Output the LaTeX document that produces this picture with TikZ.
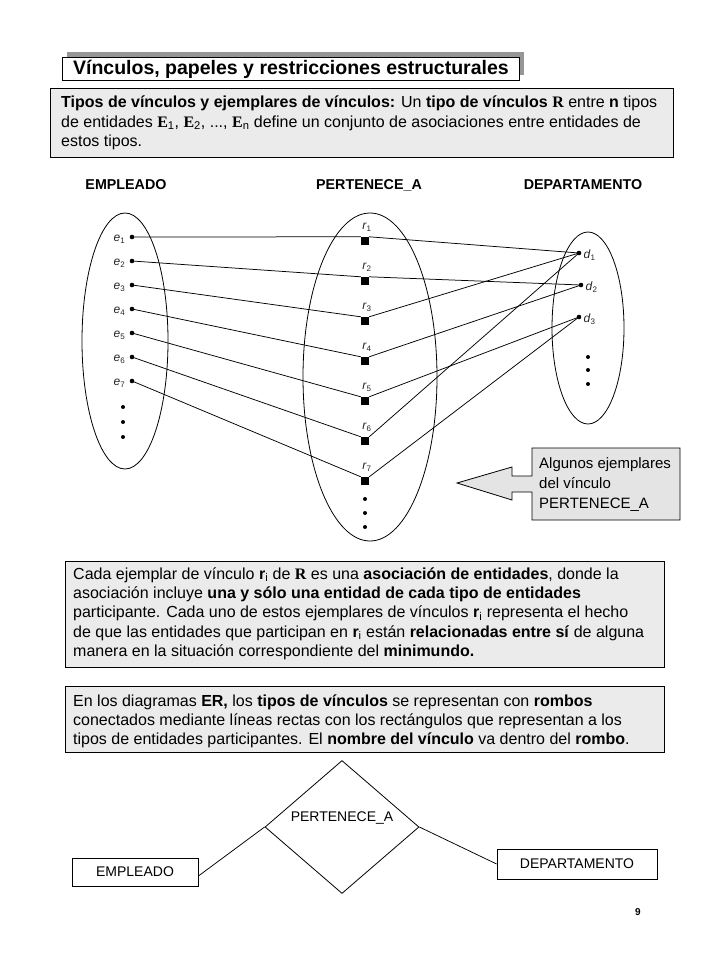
\documentclass[tikz,border=0pt]{standalone}
\usepackage{fontspec}
\setmainfont{Liberation Sans}
\newfontfamily\serifb{Liberation Serif}
\usetikzlibrary{shapes.geometric}
\definecolor{boxgray}{RGB}{235,235,235}
\definecolor{callgray}{RGB}{228,228,228}
\definecolor{shadowgray}{RGB}{150,150,150}
\newcommand{\Rb}{{\serifb\bfseries R}}
\newcommand{\Eb}{{\serifb\bfseries E}}
\newcommand{\ri}{\textbf{r}\textsubscript{i}}
\begin{document}
\begin{tikzpicture}[x=1pt,y=-1pt,
  txtbox/.style={draw, fill=boxgray, line width=0.9pt},
  body/.style={font=\fontsize{16}{19.4}\selectfont, align=left, anchor=base west, inner sep=0pt},
  callt/.style={font=\fontsize{15}{20}\selectfont, align=left, anchor=base west, inner sep=0pt},
  hdr/.style={font=\fontsize{14.3}{14.3}\selectfont\bfseries, inner sep=0pt},
  edot/.style={circle, fill, inner sep=0pt, minimum size=4.6pt},
  smalldot/.style={circle, fill, inner sep=0pt, minimum size=4pt},
  rsq/.style={fill, inner sep=0pt, minimum size=8pt},
  lab/.style={font=\fontsize{12}{12}\selectfont, text=black!85, inner sep=0pt},
  conn/.style={line width=0.75pt},
  set/.style={draw, ellipse, line width=0.8pt, inner sep=0pt},
  erbox/.style={draw, line width=0.8pt, font=\fontsize{14}{14}\selectfont, inner sep=0pt}
]
\useasboundingbox (0,0) rectangle (720,960);
\fill[white] (0,0) rectangle (720,960);

% title
\fill[shadowgray] (67,52) rectangle (524,75);
\node[draw, fill=white, line width=0.9pt, minimum width=457pt, minimum height=23pt, anchor=north west, inner sep=0pt,
      font=\fontsize{19.5}{19.5}\selectfont\bfseries] (title) at (62,57) {Vínculos, papeles y restricciones estructurales};

% box 1 (anchor = baseline of last line)
\draw[txtbox] (50,88) rectangle (673,157);
\node[body] (t1) at (61,146.8) {\textbf{Tipos de vínculos y ejemplares de vínculos:} Un \textbf{tipo de vínculos} \Rb{} entre \textbf{n} tipos\\
de entidades \Eb\textsubscript{1}, \Eb\textsubscript{2}, ..., \Eb\textsubscript{n} define un conjunto de asociaciones entre entidades de\\
estos tipos.};

% headers
\node[hdr] (hE) at (126,185) {EMPLEADO};
\node[hdr] (hR) at (369,185) {PERTENECE\_A};
\node[hdr] (hD) at (583,185) {DEPARTAMENTO};

% sets
\node[set, minimum width=86pt, minimum height=256pt] (SE) at (125,341) {};
\node[set, minimum width=134pt, minimum height=328pt] (SR) at (370,377) {};
\node[set, minimum width=72pt, minimum height=192pt] (SD) at (588,328) {};

% entity dots
\foreach \i/\y in {1/237,2/261,3/285,4/309,5/333,6/357,7/381}{
  \node[edot] (e\i) at (132,\y) {};
  \node[lab, anchor=east] (le\i) at ([xshift=-4pt,yshift=-2pt]e\i.west) {\textit{e}\textsubscript{\i}};
}
\node[smalldot] (ed1) at (123,407) {};
\node[smalldot] (ed2) at (123,422) {};
\node[smalldot] (ed3) at (123,437) {};

% relationship squares
\foreach \i/\y in {1/241,2/281,3/321,4/361,5/401,6/441,7/481}{
  \coordinate (rc\i) at (365,\y);
  \node[lab] (lr\i) at (367,\y-14) {\textit{r}\textsubscript{\i}};
}
\node[smalldot] (rd1) at (365,499) {};
\node[smalldot] (rd2) at (365,513) {};
\node[smalldot] (rd3) at (365,527) {};

% department dots
\node[edot] (d1) at (579,253) {};
\node[edot] (d2) at (581,285) {};
\node[edot] (d3) at (579,317) {};
\foreach \i in {1,2,3}{
  \node[lab, anchor=west] (ld\i) at ([xshift=2pt,yshift=-2pt]d\i.east) {\textit{d}\textsubscript{\i}};
}
\node[smalldot] (dd1) at (588,357) {};
\node[smalldot] (dd2) at (588,370) {};
\node[smalldot] (dd3) at (588,384) {};

% squares
\foreach \i in {1,...,7}{
  \node[rsq] (r\i) at (rc\i) {};
}
% connectors
\foreach \i in {1,...,7}{
  \draw[conn] (e\i.center) -- (r\i.north west);
}
\draw[conn] (r1.north east) -- (d1.center);
\draw[conn] (r2.north east) -- (d2.center);
\draw[conn] (r3.north east) -- (d1.center);
\draw[conn] (r4.north east) -- (d2.center);
\draw[conn] (r5.north east) -- (d3.center);
\draw[conn] (r6.north east) -- (d1.center);
\draw[conn] (r7.north east) -- (d3.center);

% callout
\draw[fill=callgray, line width=0.8pt] (532,448) -- (680,448) -- (680,520) -- (532,520) -- (532,492) -- (512,492) -- (512,500)
  -- (457,483) -- (512,467) -- (512,476) -- (532,476) -- cycle;
\node[callt] (call) at (539,508) {Algunos ejemplares\\del vínculo\\PERTENECE\_A};

% box 2
\draw[txtbox] (65,561) rectangle (664,667);
\node[body] (t2) at (73,656.6) {Cada ejemplar de vínculo \ri{} de \Rb{} es una \textbf{asociación de entidades}, donde la\\
asociación incluye \textbf{una y sólo una entidad de cada tipo de entidades}\\
participante. Cada uno de estos ejemplares de vínculos \ri{} representa el hecho\\
de que las entidades que participan en \ri{} están \textbf{relacionadas entre sí} de alguna\\
manera en la situación correspondiente del \textbf{minimundo.}};

% box 3
\draw[txtbox] (65,686) rectangle (664,752);
\node[body] (t3) at (73,744.8) {En los diagramas \textbf{ER,} los \textbf{tipos de vínculos} se representan con \textbf{rombos}\\
conectados mediante líneas rectas con los rectángulos que representan a los\\
tipos de entidades participantes. El \textbf{nombre del vínculo} va dentro del \textbf{rombo}.};

% ER diagram
\node[draw, diamond, line width=0.8pt, minimum width=154pt, minimum height=133pt, inner sep=0pt] (rel) at (342,827) {};
\node[font=\fontsize{14}{14}\selectfont, inner sep=0pt] (relL) at (342,818) {PERTENECE\_A};
\node[erbox, minimum width=126pt, minimum height=28pt] (empB) at (135,872) {EMPLEADO};
\node[erbox, minimum width=160pt, minimum height=30pt] (depB) at (577,864) {DEPARTAMENTO};
\draw[conn] (rel.west) -- ([yshift=-4pt]empB.east);
\draw[conn] (rel.east) -- (depB.west);

% page number
\node[font=\fontsize{10}{10}\selectfont\bfseries, inner sep=0pt] (pg) at (638,912) {9};
\end{tikzpicture}
\end{document}
